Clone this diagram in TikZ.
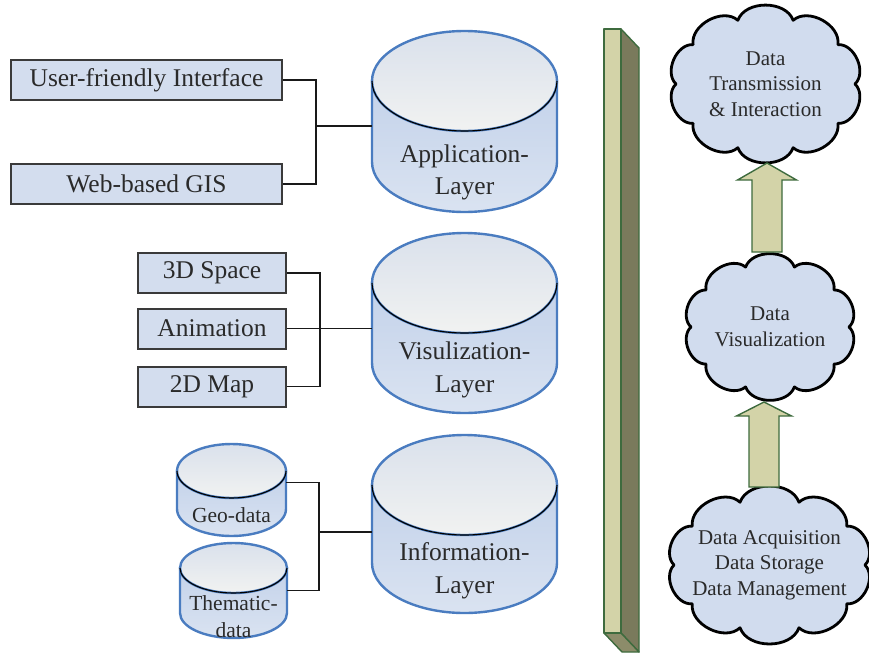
\documentclass[tikz,border=0pt]{standalone}
\usepackage{fontspec}
\setmainfont{Liberation Serif}
\usetikzlibrary{calc}

\definecolor{boxfill}{HTML}{D3DDEE}
\definecolor{boxline}{HTML}{3A3A3A}
\definecolor{cylline}{HTML}{4A7CC0}
\definecolor{cylside}{HTML}{C3D2EA}
\definecolor{cylsideb}{HTML}{DAE3F1}
\definecolor{captop}{HTML}{DAE1EC}
\definecolor{capbot}{HTML}{F1F2F1}
\definecolor{cloudfill}{HTML}{D1DCEE}
\definecolor{khaki}{HTML}{D3D3A8}
\definecolor{olive}{HTML}{7A7A5C}
\definecolor{olivebot}{HTML}{8C8C6A}
\definecolor{greenline}{HTML}{3E6B3E}
\definecolor{txt}{HTML}{2A2A2A}

\tikzset{
  boxnode/.style={draw=boxline, line width=2pt, fill=boxfill, text=txt,
    font=\fontsize{25.5}{31}\selectfont, inner sep=0pt},
  conn/.style={draw=black!90, line width=1.6pt},
  drumline/.style={draw=cylline, line width=2.4pt},
  rim/.style={draw=black, line width=1.1pt},
  drumhold/.style={draw=none, inner sep=0pt, outer sep=0pt},
  cloudline/.style={draw=black, line width=2.8pt, fill=cloudfill, line join=round},
  cloudtext/.style={draw=none, text=txt, align=center,
    font=\fontsize{21}{25.5}\selectfont, inner sep=0pt, outer sep=0pt},
  blk/.style={draw=greenline, line width=1.4pt, fill=khaki, line join=miter},
  barline/.style={draw=greenline, line width=1.4pt, line join=round},
}

% #1 name, #2 centre x, #3 lid centre y, #4 x radius, #5 y radius,
% #6 body height, #7 label, #8 font, #9 label offset below the base centre
\newcommand\drum[9]{%
  \pgfmathsetmacro\dL{#2-#4}\pgfmathsetmacro\dR{#2+#4}%
  \pgfmathsetmacro\dB{#3+#6}%
  \pgfmathsetmacro\kx{0.5523*#4}\pgfmathsetmacro\ky{0.5523*#5}%
  \pgfmathsetmacro\dBot{\dB+#5}\pgfmathsetmacro\dBk{\dB+\ky}%
  \pgfmathsetmacro\lidBot{#3+#5}\pgfmathsetmacro\lidK{#3+\ky}%
  \pgfmathsetmacro\kl{#2-\kx}\pgfmathsetmacro\kr{#2+\kx}%
  \path[drumline, top color=cylside, bottom color=cylsideb]
    (\dL,#3) -- (\dL,\dB) .. controls (\dL,\dBk) and (\kl,\dBot) .. (#2,\dBot)
    .. controls (\kr,\dBot) and (\dR,\dBk) .. (\dR,\dB) -- (\dR,#3) -- cycle;
  \path[drumline, top color=captop, bottom color=capbot]
    (#2,#3) ellipse [x radius=#4, y radius=#5];
  \draw[rim] (\dL,#3) .. controls (\dL,\lidK) and (\kl,\lidBot) .. (#2,\lidBot)
    .. controls (\kr,\lidBot) and (\dR,\lidK) .. (\dR,#3);
  \pgfmathsetmacro\hh{#6+2*#5}\pgfmathsetmacro\cy{#3+#6/2}%
  \node[drumhold, minimum width=2*#4 pt, minimum height=\hh pt] (#1) at (#2,\cy) {};
  \pgfmathsetmacro\ly{\dB+#9}%
  \node[text=txt, align=center, font=#8, inner sep=0pt] at (#2,\ly) {#7};
}

% #1 name, #2 centre x, #3 centre y, #4 width, #5 height, #6 puffs, #7 text
\newcommand\puffcloud[7]{%
  \pgfmathsetmacro\cloudA{#4/2-4}\pgfmathsetmacro\cloudB{#5/2-12}%
  \begin{scope}[shift={(#2,#3)}, yscale=-1]
    \path[cloudline] (\cloudA,0)
      \foreach \i in {1,...,#6} {
        to[bend left=70] ({\cloudA*cos(\i*360/#6)},{\cloudB*sin(\i*360/#6)})
      } -- cycle;
  \end{scope}
  \node[cloudtext, minimum width=#4 pt, minimum height=#5 pt] (#1) at (#2,#3) {#7};
}

\begin{document}
\begin{tikzpicture}[x=1pt, y=-1pt]
\useasboundingbox (0,0) rectangle (869,653);

% ---------- application layer ----------
\node[boxnode, minimum width=271pt, minimum height=40pt] (ui) at (146.5,80) {User-friendly Interface};
\node[boxnode, minimum width=271pt, minimum height=40pt] (web) at (146.5,184) {Web-based GIS};
\drum{app}{464.5}{81}{92.5}{50}{81}{Application-\\Layer}{\fontsize{25.5}{32}\selectfont}{10}
\coordinate (j1) at (316,126);
\draw[conn] (ui.east) -| (j1) |- (web.east);
\draw[conn] (j1) -- (j1 -| app.west);

% ---------- visualization layer ----------
\node[boxnode, minimum width=148pt, minimum height=40pt] (s3d) at (212,273) {3D Space};
\node[boxnode, minimum width=148pt, minimum height=40pt] (anim) at (212,328.5) {Animation};
\node[boxnode, minimum width=148pt, minimum height=40pt] (s2d) at (212,386.5) {2D Map};
\drum{vis}{464.5}{283}{92.5}{50}{80}{Visulization-\\Layer}{\fontsize{25.5}{33}\selectfont}{7}
\coordinate (j2) at (320,329);
\draw[conn] (s3d.east) -| (j2) |- (s2d.east);
\draw[conn] (anim.east) -- (anim.east -| vis.west);

% ---------- information layer ----------
\drum{geo}{231.5}{471}{54.5}{27}{38}{Geo-data}{\fontsize{21.5}{27}\selectfont}{6}
\drum{them}{233.5}{568}{53.5}{25}{45}{Thematic-\\data}{\fontsize{21.5}{27}\selectfont}{3.5}
\drum{info}{464.5}{485}{92.5}{50}{78}{Information-\\Layer}{\fontsize{25.5}{33}\selectfont}{8}
\coordinate (j3) at (319,532);
\draw[conn] ([yshift=7.5pt]geo.east) -| (j3) |- (them.east);
\draw[conn] (j3) -- (j3 -| info.west);

% ---------- upright bar ----------
\path[barline, fill=olive] (621,29) -- (639,48) -- (639,652) -- (621,633) -- cycle;
\path[barline, fill=olivebot] (604,633) -- (621,633) -- (639,652) -- (622,652) -- cycle;
\path[barline, fill=khaki] (604,29) rectangle (621,633);

% ---------- data flow ----------
\puffcloud{c1}{765.5}{84}{187}{158}{10}{Data\\Transmission\\\&~Interaction}
\puffcloud{c2}{770}{327}{166}{150}{10}{Data\\Visualization}
\puffcloud{c3}{769.5}{565}{199}{156}{10}{Data Acquisition\\Data Storage\\Data Management}

\coordinate (ax1) at (767,0);
\coordinate (ax2) at (764,0);
\draw[blk] let \p1=(c2.north -| ax1), \p2=(c1.south -| ax1) in
  (\x1-15pt,\y1) -- (\x1-15pt,\y2-17pt) -- (\x1-29.5pt,\y2-17pt) -- (\x2,\y2)
  -- (\x1+29.5pt,\y2-17pt) -- (\x1+15pt,\y2-17pt) -- (\x1+15pt,\y1) -- cycle;
\draw[blk] let \p1=(c3.north -| ax2), \p2=(c2.south -| ax2) in
  (\x1-15pt,\y1) -- (\x1-15pt,\y2-14pt) -- (\x1-27.5pt,\y2-14pt) -- (\x2,\y2)
  -- (\x1+27.5pt,\y2-14pt) -- (\x1+15pt,\y2-14pt) -- (\x1+15pt,\y1) -- cycle;
\end{tikzpicture}
\end{document}
